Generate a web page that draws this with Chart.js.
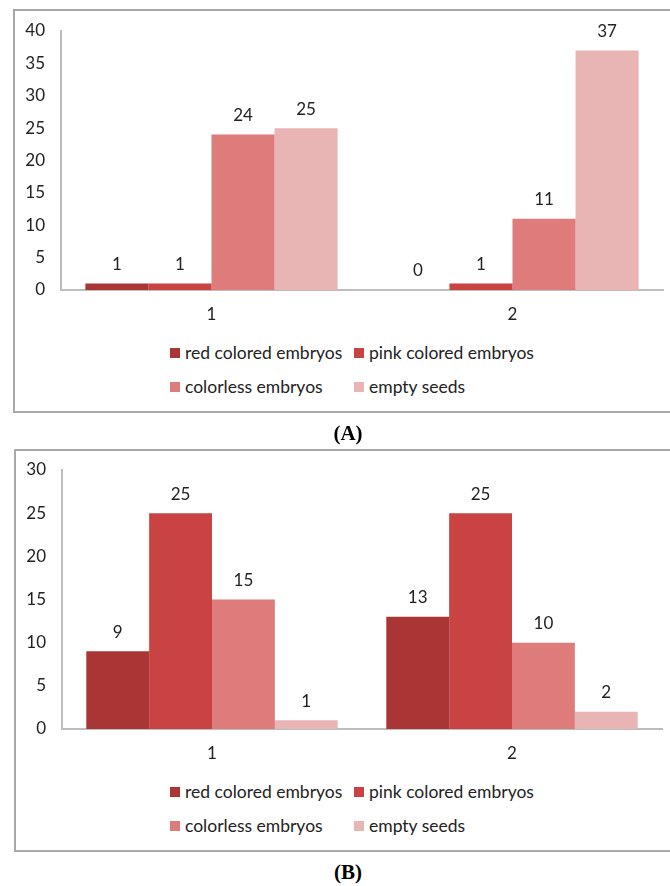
<!DOCTYPE html>
<html>
<head>
<meta charset="utf-8">
<script src="https://cdn.jsdelivr.net/npm/chart.js@4.4.0/dist/chart.umd.min.js"></script>
<style>
	html, body { margin: 0; padding: 0; background: #fff; overflow: hidden; }
	body { width: 670px; height: 886px; position: relative; font-family: Lato, 'Open Sans', sans-serif; }
	.box { position: absolute; border: 2px solid #a8a8a8; box-sizing: border-box; }
	.plot { position: absolute; left: 0; width: 670px; height: 330px; }
	.legend { position: absolute; left: 0; width: 670px; font-size: 17.5px; color: #222; }
	.legend .item { position: absolute; white-space: nowrap; line-height: 20px; }
	.legend .sw { position: absolute; width: 10px; height: 10px; top: 5px; }
	.legend .tx { position: absolute; left: 15px; top: 0; }
	.caption { position: absolute; width: 100px; text-align: center; line-height: 24px; font: bold 21px/24px 'Liberation Serif', serif; color: #000; }
</style>
</head>
<body>
<div class="box" style="left:13px; top:9px; width:680px; height:404px;"></div>
<div class="box" style="left:14px; top:449px; width:680px; height:403px;"></div>

<canvas id="chartA" class="plot" style="top:0px;" width="670" height="330"></canvas>
<canvas id="chartB" class="plot" style="top:440px;" width="670" height="330"></canvas>

<div id="legendA" class="legend" style="top:343px;"></div>
<div id="legendB" class="legend" style="top:782px;"></div>

<div class="caption" style="left:298px; top:421px;">(A)</div>
<div class="caption" style="left:298px; top:860px;">(B)</div>

<script>
// categories and series
const categories = ['1', '2'];
const seriesNames = ['red colored embryos', 'pink colored embryos', 'colorless embryos', 'empty seeds'];
const seriesColors = ['#a93634', '#c94343', '#de7b7b', '#e8b4b4'];

// panel A
const redA = [1, 0];
const pinkA = [1, 1];
const colorlessA = [24, 11];
const emptyA = [25, 37];
const ticksA = [0, 5, 10, 15, 20, 25, 30, 35, 40];

// panel B
const redB = [9, 13];
const pinkB = [25, 25];
const colorlessB = [15, 10];
const emptyB = [1, 2];
const ticksB = [0, 5, 10, 15, 20, 25, 30];

const FONT = 'Lato, "Open Sans", sans-serif';
const TEXT = '#222';
const AXIS = '#bdbdbd';

// draw values above each bar
const valueLabels = {
	id: 'valueLabels',
	afterDatasetsDraw (chart) {
		const ctx = chart.ctx;
		ctx.save();
		ctx.font = '17px ' + FONT;
		ctx.fillStyle = TEXT;
		ctx.textAlign = 'center';
		ctx.textBaseline = 'middle';
		chart.data.datasets.forEach((ds, i) => {
			chart.getDatasetMeta(i).data.forEach((bar, j) => {
				ctx.fillText(String(ds.data[j]), bar.x, bar.y - 19);
			});
		});
		ctx.restore();
	},
};

function makeChart (id, series, yTicks, layout) {
	const ctx = document.getElementById(id).getContext('2d');
	const data = {
		labels: categories,
		datasets: series.map((values, i) => ({
			label: seriesNames[i],
			data: values,
			backgroundColor: seriesColors[i],
			borderWidth: 0,
			barPercentage: 1,
			categoryPercentage: 0.838,
		})),
	};
	return new Chart(ctx, {
		type: 'bar',
		data: data,
		plugins: [valueLabels],
		options: {
			responsive: false,
			animation: false,
			layout: { padding: { top: layout.top, right: layout.right, left: 0, bottom: 0 } },
			plugins: { legend: { display: false }, tooltip: { enabled: false } },
			scales: {
				x: {
					grid: { display: false, drawTicks: false },
					border: { display: true, color: AXIS, width: 2 },
					ticks: { color: TEXT, font: { family: FONT, size: 17 }, padding: 14 },
					afterFit (scale) { scale.height = layout.xHeight; },
				},
				y: {
					min: 0,
					max: yTicks[yTicks.length - 1],
					afterBuildTicks (scale) { scale.ticks = yTicks.map(v => ({ value: v })); },
					grid: { display: false, drawTicks: false },
					border: { display: true, color: AXIS, width: 2 },
					ticks: { color: TEXT, font: { family: FONT, size: 17 }, padding: 16 },
					afterFit (scale) { scale.width = layout.yWidth; },
				},
			},
		},
	});
}

function makeLegend (id) {
	const el = document.getElementById(id);
	const cols = [170, 354];
	seriesNames.forEach((name, i) => {
		const item = document.createElement('div');
		item.className = 'item';
		item.style.left = cols[i % 2] + 'px';
		item.style.top = (Math.floor(i / 2) * 34) + 'px';
		item.innerHTML = '<span class="sw" style="background:' + seriesColors[i] + '"></span><span class="tx">' + name + '</span>';
		el.appendChild(item);
	});
}

makeChart('chartA', [redA, pinkA, colorlessA, emptyA], ticksA, { top: 31, right: 7, xHeight: 40, yWidth: 61 });
makeChart('chartB', [redB, pinkB, colorlessB, emptyB], ticksB, { top: 30, right: 8, xHeight: 41, yWidth: 62 });
makeLegend('legendA');
makeLegend('legendB');
</script>
</body>
</html>
